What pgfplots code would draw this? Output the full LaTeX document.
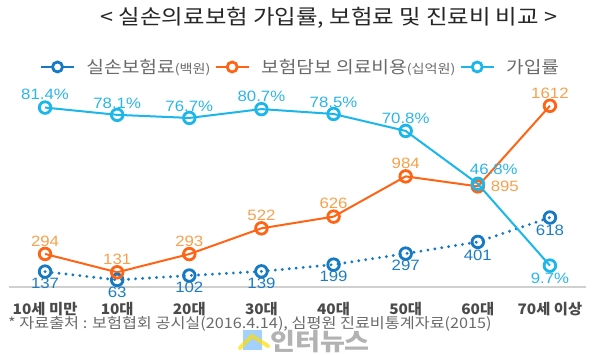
\documentclass[border=0pt]{standalone}
\usepackage{fontspec}
\usepackage{pgfplots}
\usepackage{pgfplotstable}
\pgfplotsset{compat=1.18}
\setmainfont{Noto Sans CJK KR}
\newfontfamily\krw[FakeStretch=1.13]{Noto Sans CJK KR}
\newfontfamily\krt[FakeStretch=1.06]{Noto Sans CJK KR}
\newfontfamily\krf[FakeStretch=1.12]{Noto Sans CJK KR}
\newfontfamily\num[FakeStretch=1.12]{Liberation Sans}
\definecolor{cPrem}{HTML}{1679C4}
\definecolor{cPremL}{HTML}{1E7DC2}
\definecolor{cCost}{HTML}{FF6414}
\definecolor{cCostL}{HTML}{F8A04C}
\definecolor{cCov}{HTML}{1BB6EA}
\definecolor{cCovL}{HTML}{2BB5E8}
\definecolor{cGrid}{HTML}{D0D0D0}
\definecolor{cLeg}{HTML}{6A6A6A}
\definecolor{cTick}{HTML}{4A4A4A}

\pgfplotstableread{
x y dx dy
0 137 0 -12
1 63 0 -12
2 102 0 -12
3 139 0 -12
4 199 0 -12
5 297 0 -12
6 401 0 -13
7 618 0 -13
}\prem
\pgfplotstableread{
x y dx dy
0 294 0 13
1 131 0 13
2 293 0 13
3 522 0 13
4 626 0 13
5 984 0 13
6 895 27 0
7 1612 0 12
}\cost
\pgfplotstableread{
x y dx dy
0 81.4 0 13
1 78.1 0 12
2 76.7 0 12
3 80.7 0 13
4 78.5 0 12
5 70.8 0 13
6 46.8 16 15
7 9.7 0 -13
}\cov

\pgfplotsset{
  base/.style={
    at={(9pt,67pt)}, anchor=south west,
    scale only axis, width=577pt, height=192pt,
    xmin=-0.5, xmax=7.5, ymin=0,
    clip=false,
  },
  lbl/.style={
    point meta=explicit symbolic,
    visualization depends on={\thisrow{dx} \as \dx},
    visualization depends on={\thisrow{dy} \as \dy},
    nodes near coords style={anchor=center, xshift=\dx pt, yshift=\dy pt, font=\fontsize{15pt}{15pt}\num, inner sep=0pt},
  },
  mk/.style={mark=o, mark size=5.8pt, mark options={solid, fill=white, line width=2.8pt}},
}

\begin{document}
\begin{tikzpicture}
\path[use as bounding box] (0pt,0pt) rectangle (600pt,354pt);

\begin{axis}[base, ymax=1708,
  axis x line*=bottom, axis y line=none,
  axis line style={cGrid, line width=1.5pt, -},
  xtick={0,...,7}, major tick length=0pt,
  xticklabels={10세 미만,10대,20대,30대,40대,50대,60대,70세 이상},
  xticklabel style={font=\fontsize{14.5pt}{15pt}\krt\bfseries, text=cTick, yshift=-12pt},
  legend style={at={(0.505,1.146)}, anchor=center, draw=none, fill=none,
    legend columns=3, font=\fontsize{17pt}{18pt}\krw, text=cLeg,
    /tikz/every even column/.append style={column sep=2pt},
    legend cell align=left},
]
\addlegendimage{legend image code/.code={\draw[cPrem,line width=2.8pt] (0pt,0pt)--(33pt,0pt); \draw[cPrem,line width=2.8pt,fill=white] (16.5pt,0pt) circle (5pt);}}
\addlegendentry{\hspace{9pt}실손보험료{\fontsize{12.5pt}{13pt}\selectfont(백원)}}
\addlegendimage{legend image code/.code={\draw[cCost,line width=2.8pt] (0pt,0pt)--(33pt,0pt); \draw[cCost,line width=2.8pt,fill=white] (16.5pt,0pt) circle (5pt);}}
\addlegendentry{\hspace{9pt}보험담보 의료비용{\fontsize{12.5pt}{13pt}\selectfont(십억원)}}
\addlegendimage{legend image code/.code={\draw[cCov,line width=2.8pt] (0pt,0pt)--(33pt,0pt); \draw[cCov,line width=2.8pt,fill=white] (16.5pt,0pt) circle (5pt);}}
\addlegendentry{\hspace{9pt}가입률}

\addplot[forget plot, cPrem, line width=3.2pt, line cap=round, dash pattern=on 0pt off 7pt, mk, lbl,
  nodes near coords={\textcolor{cPremL}{\pgfplotspointmeta}}]
  table[x=x, y=y, meta=y] {\prem};
\addplot[forget plot, cCost, line width=2pt, mk, lbl,
  nodes near coords={\textcolor{cCostL}{\pgfplotspointmeta}}]
  table[x=x, y=y, meta=y] {\cost};
\end{axis}

\begin{axis}[base, ymax=87.1, hide axis]
\addplot[cCov, line width=2pt, mk, lbl,
  nodes near coords={\textcolor{cCovL}{\pgfplotspointmeta\%}}]
  table[x=x, y=y, meta=y] {\cov};
\end{axis}

\node[font=\fontsize{20.7pt}{21pt}\krw, text=black!85] at (329pt,336pt) {< 실손의료보험 가입률, 보험료 및 진료비 비교 >};
\node[anchor=west, font=\fontsize{14.5pt}{14pt}\krf, text=cLeg, inner sep=0pt] at (8pt,30pt) {* 자료출처 : 보험협회 공시실(2016.4.14), 심평원 진료비통계자료(2015)};
\fill[blue!50!cyan!60!white, opacity=0.6] (243pt,4pt) rectangle (262pt,24pt);
\draw[yellow!80!orange, opacity=0.7, line width=4pt, line cap=round] (240pt,6pt) -- (252pt,18pt) -- (268pt,8pt);
\node[font=\fontsize{24pt}{24pt}\krw\bfseries, text=gray!75, opacity=0.8] at (320pt,12pt) {인터뉴스};
\end{tikzpicture}
\end{document}
